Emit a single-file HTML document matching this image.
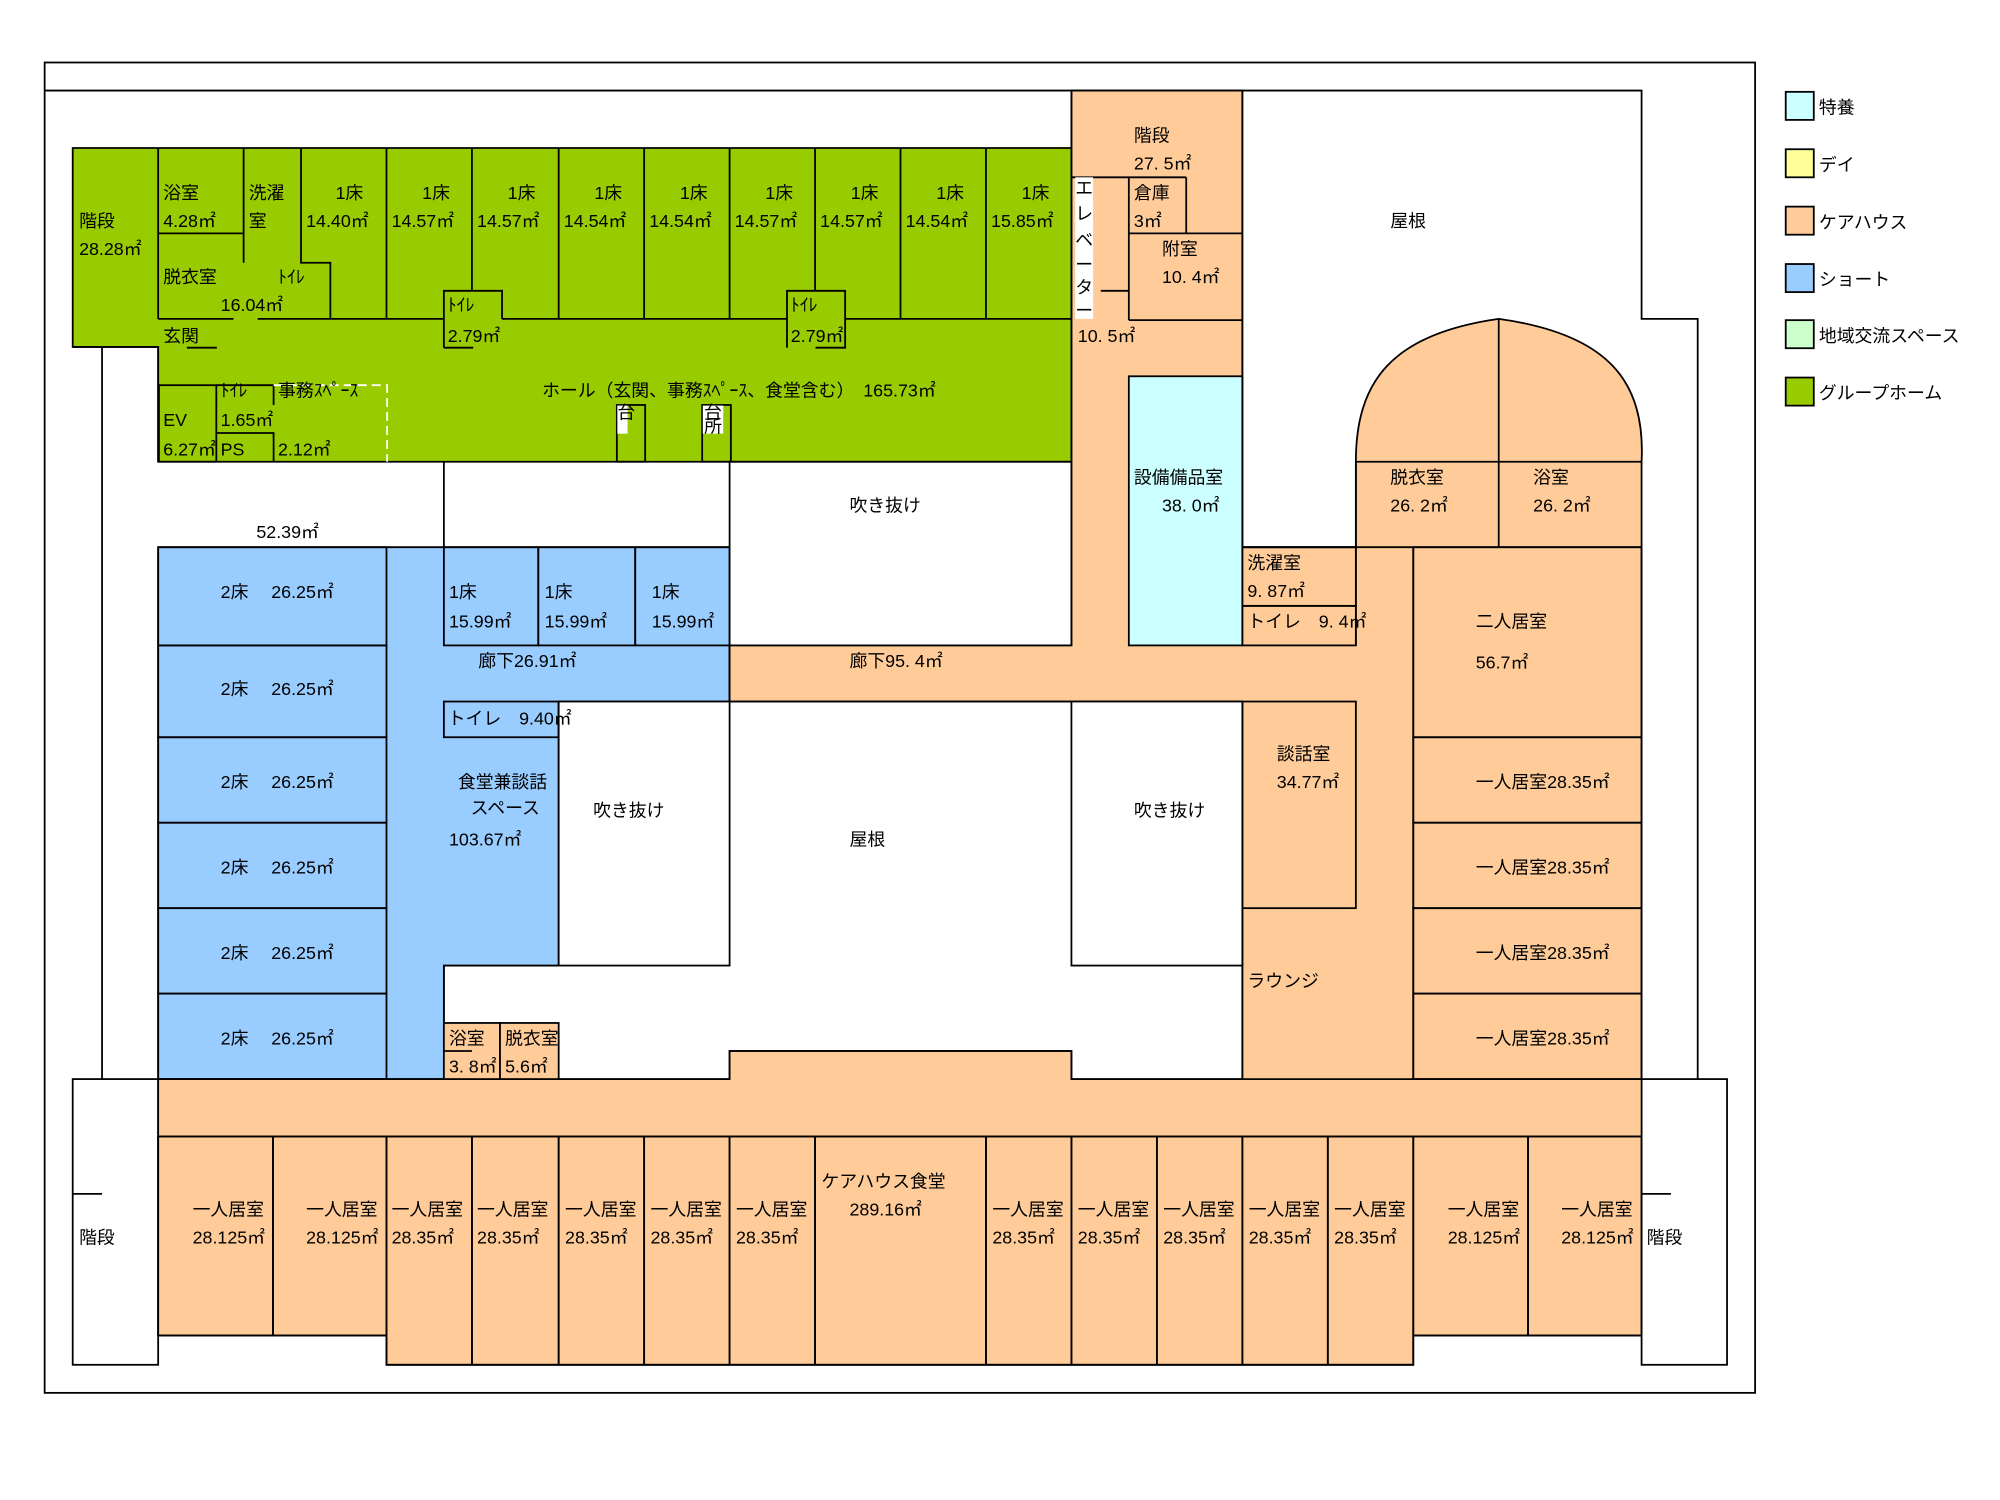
<!DOCTYPE html>
<html><head><meta charset="utf-8"><style>
html,body{margin:0;padding:0;background:#fff;width:2000px;height:1500px;overflow:hidden}
svg{display:block}
text{font-family:"Liberation Sans","Noto Sans CJK JP",sans-serif;font-size:14px;fill:#000}
</style></head><body>
<svg width="2000" height="1500" viewBox="0 0 1568 1176" xmlns="http://www.w3.org/2000/svg">
<g stroke="#000" stroke-width="1.4" fill="none">
<rect x="35" y="49" width="1341" height="1043"/>
<path d="M35 71H1287V250H1331V846"/>
<line x1="80" y1="272" x2="80" y2="846"/>
<rect x="57" y="846" width="67" height="224"/>
<line x1="57" y1="936" x2="80" y2="936"/>
<rect x="1287" y="846" width="67" height="224"/>
<line x1="1287" y1="936" x2="1310" y2="936"/>

<path fill="#99CC00" d="M57 116H840V362H124V272H57Z"/>
<line x1="124" y1="116" x2="124" y2="250"/>
<line x1="57" y1="272" x2="124" y2="272"/>
<line x1="124" y1="183" x2="191" y2="183"/>
<line x1="191" y1="116" x2="191" y2="206"/>
<path d="M236 116V206H259V250"/>
<line x1="303" y1="116" x2="303" y2="250"/>
<line x1="370" y1="116" x2="370" y2="228"/>
<line x1="438" y1="116" x2="438" y2="250"/>
<line x1="505" y1="116" x2="505" y2="250"/>
<line x1="572" y1="116" x2="572" y2="250"/>
<line x1="639" y1="116" x2="639" y2="228"/>
<line x1="706" y1="116" x2="706" y2="250"/>
<line x1="773" y1="116" x2="773" y2="250"/>
<line x1="124" y1="250" x2="183" y2="250"/>
<line x1="202" y1="250" x2="348" y2="250"/>
<line x1="393.6" y1="250" x2="617" y2="250"/>
<line x1="662.6" y1="250" x2="840" y2="250"/>
<line x1="146.5" y1="272.6" x2="170" y2="272.6"/>
<path d="M348 272.6V228H393.6V250"/>
<line x1="348" y1="272.6" x2="371" y2="272.6"/>
<path d="M617 272.6V228H662.6V272.6H639.4"/>
<path d="M124 272V362"/>
<rect x="124.6" y="302" width="45" height="60"/>
<path d="M169.5 302H214.5V317.5"/>
<path d="M169.5 339.5H214.5V362"/>
<path d="M214.5 302H303.5V362" stroke="#fff" stroke-dasharray="7 4"/>
<rect x="483.6" y="317.5" width="22.2" height="44.5"/>
<rect x="550.5" y="317.5" width="22.5" height="44.5"/>

<line x1="348" y1="362" x2="348" y2="429"/>
<rect x="572" y="362" width="268" height="144"/>

<path fill="#99CCFF" d="M124 429H572V550H438V757H348V846H124Z"/>
<rect x="124" y="429" width="179" height="77"/>
<rect x="124" y="506" width="179" height="72"/>
<rect x="124" y="578" width="179" height="67"/>
<rect x="124" y="645" width="179" height="67"/>
<rect x="124" y="712" width="179" height="67"/>
<rect x="124" y="779" width="179" height="67"/>
<rect x="348" y="429" width="74" height="77"/>
<rect x="422" y="429" width="76" height="77"/>
<rect x="498" y="429" width="74" height="77"/>
<rect x="348" y="550" width="90" height="28"/>
<rect x="438" y="550" width="134" height="207" fill="#fff"/>

<path fill="#FFCC99" d="M572 506H840V71H974V429H1063V362C1063 300 1090 262 1175 250C1262 262 1290 300 1287 362V1047H1108V1070H303V1047H124V846H572V824H840V846H974V550H572Z"/>
<path d="M572 506H840V71"/>
<line x1="840" y1="139" x2="930" y2="139"/>
<path d="M885 139V251M930 139V183M885 183H974M885 251H974"/>
<line x1="863" y1="228" x2="885" y2="228"/>
<rect x="885" y="295" width="89" height="211" fill="#CCFFFF"/>
<line x1="974" y1="71" x2="974" y2="429"/>
<line x1="1175" y1="250" x2="1175" y2="429"/>
<line x1="1063" y1="362" x2="1287" y2="362"/>
<path d="M974 429H1287"/>
<rect x="974" y="429" width="89" height="46"/>
<rect x="974" y="475" width="89" height="31"/>
<line x1="1063" y1="362" x2="1063" y2="506"/>
<line x1="1108" y1="429" x2="1108" y2="846"/>
<rect x="1108" y="429" width="179" height="149"/>
<rect x="1108" y="578" width="179" height="67"/>
<rect x="1108" y="645" width="179" height="67"/>
<rect x="1108" y="712" width="179" height="67"/>
<rect x="1108" y="779" width="179" height="67"/>
<rect x="974" y="550" width="89" height="162"/>
<line x1="974" y1="712" x2="974" y2="846"/>
<line x1="572" y1="506" x2="572" y2="550"/>
<line x1="572" y1="550" x2="974" y2="550"/>
<rect x="840" y="550" width="134" height="207" fill="#fff"/>
<line x1="348" y1="757" x2="348" y2="846"/>
<path d="M124 846H572V824H840V846H1287"/>
<rect x="348" y="802" width="44" height="44" fill="#FFCC99"/>
<rect x="392" y="802" width="46" height="44" fill="#FFCC99"/>
<line x1="348" y1="824" x2="370" y2="824"/>
<line x1="124" y1="891" x2="1287" y2="891"/>
<rect x="124" y="891" width="90" height="156"/>
<rect x="214" y="891" width="89" height="156"/>
<rect x="303" y="891" width="67" height="179"/>
<rect x="370" y="891" width="68" height="179"/>
<rect x="438" y="891" width="67" height="179"/>
<rect x="505" y="891" width="67" height="179"/>
<rect x="572" y="891" width="67" height="179"/>
<rect x="639" y="891" width="134" height="179"/>
<rect x="773" y="891" width="67" height="179"/>
<rect x="840" y="891" width="67" height="179"/>
<rect x="907" y="891" width="67" height="179"/>
<rect x="974" y="891" width="67" height="179"/>
<rect x="1041" y="891" width="67" height="179"/>
<rect x="1108" y="891" width="90" height="156"/>
<rect x="1198" y="891" width="89" height="156"/>

<rect x="1400" y="72" width="22" height="22" fill="#CCFFFF"/>
<rect x="1400" y="117" width="22" height="22" fill="#FFFF99"/>
<rect x="1400" y="162" width="22" height="22" fill="#FFCC99"/>
<rect x="1400" y="207" width="22" height="22" fill="#99CCFF"/>
<rect x="1400" y="251" width="22" height="22" fill="#CCFFCC"/>
<rect x="1400" y="296" width="22" height="22" fill="#99CC00"/>
</g>
<g fill="#fff"><rect x="843" y="139" width="14" height="111"/><rect x="484" y="318" width="8" height="22"/><rect x="551" y="318" width="16" height="22"/></g>
<g>
<text x="1426" y="89">特養</text><text x="1426" y="134">デイ</text><text x="1426" y="179">ケアハウス</text><text x="1426" y="224">ショート</text><text x="1426" y="268">地域交流スペース</text><text x="1426" y="313">グループホーム</text>

<text x="62" y="178">階段</text><text x="62" y="200">28.28㎡</text>
<text x="128" y="156">浴室</text><text x="128" y="178">4.28㎡</text>
<text x="195" y="156">洗濯</text><text x="195" y="178">室</text>
<text x="263" y="156">1床</text><text x="240" y="178">14.40㎡</text>
<text x="331" y="156">1床</text><text x="307" y="178">14.57㎡</text>
<text x="398" y="156">1床</text><text x="374" y="178">14.57㎡</text>
<text x="466" y="156">1床</text><text x="442" y="178">14.54㎡</text>
<text x="533" y="156">1床</text><text x="509" y="178">14.54㎡</text>
<text x="600" y="156">1床</text><text x="576" y="178">14.57㎡</text>
<text x="667" y="156">1床</text><text x="643" y="178">14.57㎡</text>
<text x="734" y="156">1床</text><text x="710" y="178">14.54㎡</text>
<text x="801" y="156">1床</text><text x="777" y="178">15.85㎡</text>
<text x="128" y="222">脱衣室</text><text x="218" y="222" font-size="12">ﾄｲﾚ</text><text x="173" y="244">16.04㎡</text>
<text x="128" y="268">玄関</text>
<text x="351" y="244" font-size="12">ﾄｲﾚ</text><text x="351" y="268">2.79㎡</text>
<text x="620" y="244" font-size="12">ﾄｲﾚ</text><text x="620" y="268">2.79㎡</text>
<text x="173" y="311" font-size="12">ﾄｲﾚ</text><text x="173" y="334">1.65㎡</text>
<text x="128" y="334">EV</text><text x="128" y="357">6.27㎡</text>
<text x="173" y="357">PS</text>
<text x="218" y="311">事務ｽﾍﾟｰｽ</text><text x="218" y="357">2.12㎡</text>
<text x="425" y="311">ホール（玄関、事務ｽﾍﾟｰｽ、食堂含む）　165.73㎡</text>
<text x="484" y="328" font-size="8">台</text><text x="552" y="328" font-size="9">台</text><text x="552" y="339" font-size="9">所</text>

<text x="889" y="111">階段</text><text x="889" y="133">27. 5㎡</text>
<text x="889" y="156">倉庫</text><text x="889" y="178">3㎡</text>
<text x="911" y="200">附室</text><text x="911" y="222">10. 4㎡</text>
<text x="845" y="268">10. 5㎡</text>
<text x="843" y="152">エ</text><text x="843" y="172">レ</text><text x="843" y="193">ベ</text><text x="843" y="212">ー</text><text x="843" y="230">タ</text><text x="843" y="248">ー</text>
<text x="889" y="379">設備備品室</text><text x="911" y="401">38. 0㎡</text>
<text x="1090" y="178">屋根</text>
<text x="1090" y="379">脱衣室</text><text x="1090" y="401">26. 2㎡</text>
<text x="1202" y="379">浴室</text><text x="1202" y="401">26. 2㎡</text>
<text x="978" y="446">洗濯室</text><text x="978" y="468">9. 87㎡</text>
<text x="978" y="492">トイレ　9. 4㎡</text>
<text x="1157" y="492">二人居室</text><text x="1157" y="524">56.7㎡</text>
<text x="1157" y="618">一人居室28.35㎡</text><text x="1157" y="685">一人居室28.35㎡</text>
<text x="1157" y="752">一人居室28.35㎡</text><text x="1157" y="819">一人居室28.35㎡</text>
<text x="1001" y="596">談話室</text><text x="1001" y="618">34.77㎡</text>
<text x="978" y="774">ラウンジ</text>
<text x="666" y="401">吹き抜け</text><text x="465" y="640">吹き抜け</text><text x="666" y="663">屋根</text><text x="889" y="640">吹き抜け</text>
<text x="666" y="523">廊下95. 4㎡</text>
<text x="201" y="422">52.39㎡</text>
<text x="173" y="469">2床　 26.25㎡</text><text x="173" y="545">2床　 26.25㎡</text><text x="173" y="618">2床　 26.25㎡</text>
<text x="173" y="685">2床　 26.25㎡</text><text x="173" y="752">2床　 26.25㎡</text><text x="173" y="819">2床　 26.25㎡</text>
<text x="352" y="469">1床</text><text x="352" y="492">15.99㎡</text>
<text x="427" y="469">1床</text><text x="427" y="492">15.99㎡</text>
<text x="511" y="469">1床</text><text x="511" y="492">15.99㎡</text>
<text x="375" y="523">廊下26.91㎡</text>
<text x="351" y="568">トイレ　9.40㎡</text>
<text x="359" y="618">食堂兼談話</text><text x="369" y="638">スペース</text><text x="352" y="663">103.67㎡</text>
<text x="352" y="819">浴室</text><text x="352" y="841">3. 8㎡</text>
<text x="396" y="819">脱衣室</text><text x="396" y="841">5.6㎡</text>
<text x="62" y="975">階段</text><text x="1291" y="975">階段</text>
<text x="151" y="953">一人居室</text><text x="151" y="975">28.125㎡</text>
<text x="240" y="953">一人居室</text><text x="240" y="975">28.125㎡</text>
<text x="307" y="953">一人居室</text><text x="307" y="975">28.35㎡</text>
<text x="374" y="953">一人居室</text><text x="374" y="975">28.35㎡</text>
<text x="443" y="953">一人居室</text><text x="443" y="975">28.35㎡</text>
<text x="510" y="953">一人居室</text><text x="510" y="975">28.35㎡</text>
<text x="577" y="953">一人居室</text><text x="577" y="975">28.35㎡</text>
<text x="644" y="931">ケアハウス食堂</text><text x="666" y="953">289.16㎡</text>
<text x="778" y="953">一人居室</text><text x="778" y="975">28.35㎡</text>
<text x="845" y="953">一人居室</text><text x="845" y="975">28.35㎡</text>
<text x="912" y="953">一人居室</text><text x="912" y="975">28.35㎡</text>
<text x="979" y="953">一人居室</text><text x="979" y="975">28.35㎡</text>
<text x="1046" y="953">一人居室</text><text x="1046" y="975">28.35㎡</text>
<text x="1135" y="953">一人居室</text><text x="1135" y="975">28.125㎡</text>
<text x="1224" y="953">一人居室</text><text x="1224" y="975">28.125㎡</text>
</g>
</svg>
</body></html>
